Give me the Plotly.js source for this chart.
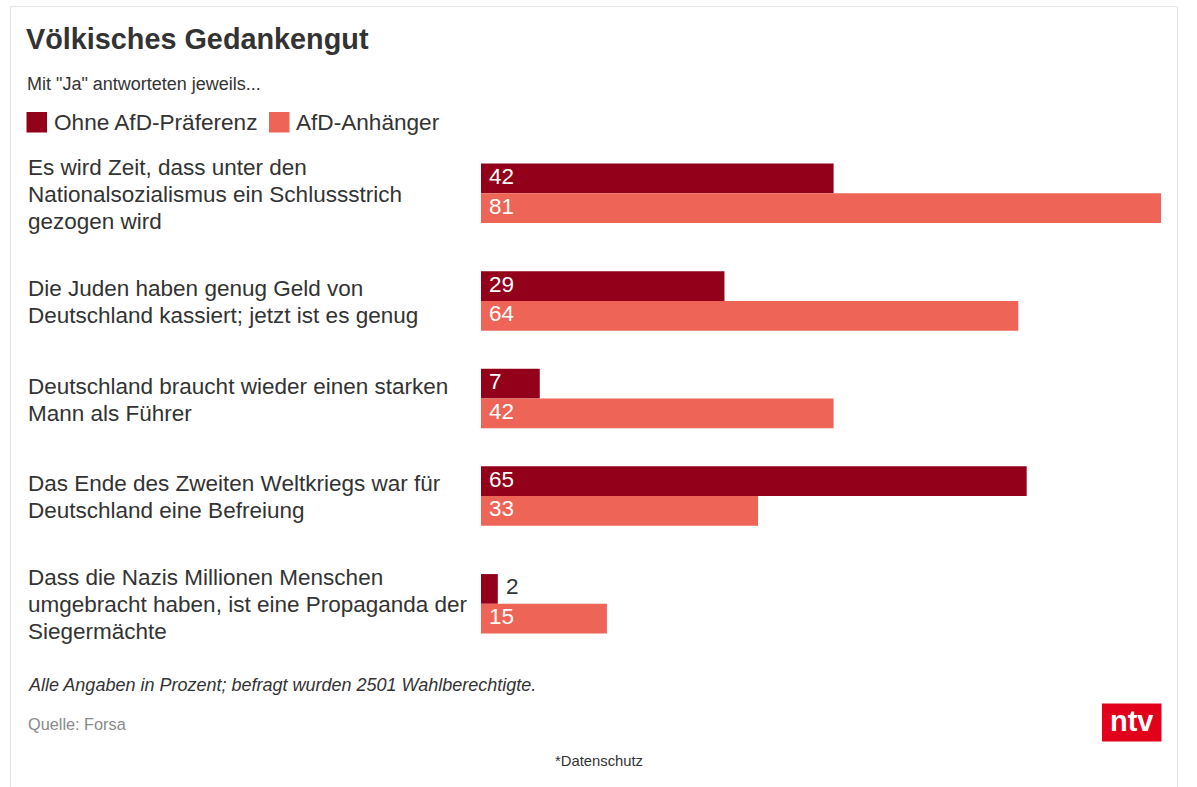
<!DOCTYPE html>
<html>
<head>
<meta charset="utf-8">
<script src="https://cdn.plot.ly/plotly-3.0.1.min.js"></script>
<style>
  html, body { margin: 0; padding: 0; background: #ffffff; }
  #chart { width: 1197px; height: 787px; }
</style>
</head>
<body>
<div id="chart"></div>
<script>
// ---------------- DATA ----------------
const titleText = "Völkisches Gedankengut";
const subtitleText = 'Mit "Ja" antworteten jeweils...';
const categories = [
  "Es wird Zeit, dass unter den<br>Nationalsozialismus ein Schlussstrich<br>gezogen wird",
  "Die Juden haben genug Geld von<br>Deutschland kassiert; jetzt ist es genug",
  "Deutschland braucht wieder einen starken<br>Mann als Führer",
  "Das Ende des Zweiten Weltkriegs war für<br>Deutschland eine Befreiung",
  "Dass die Nazis Millionen Menschen<br>umgebracht haben, ist eine Propaganda der<br>Siegermächte"
];
const seriesNames = ["Ohne AfD-Präferenz", "AfD-Anhänger"];
const ohneAfd = [42, 29, 7, 65, 2];
const afdAnhaenger = [81, 64, 42, 33, 15];
const footnoteText = "Alle Angaben in Prozent; befragt wurden 2501 Wahlberechtigte.";
const sourceText = "Quelle: Forsa";
const privacyText = "*Datenschutz";
const logoText = "ntv";

// ---------------- STYLE / GEOMETRY ----------------
const FONT = "Liberation Sans, Arial, Helvetica, sans-serif";
const TXT = "#333333";
const DARK = "#92001A";
const LIGHT = "#EE6557";
const RED = "#E2001A";
const W = 1197, H = 787;
const ML = 481, MR = 36, MT = 134, MB = 123.5;
const PW = W - ML - MR, PH = H - MT - MB;
const px2x = p => (p - ML) / PW;
const py2y = p => 1 - (p - MT) / PH;
const BAR_H = 29.75;          // bar thickness (axis units = px)
const LINE_H = 27;            // label line spacing in px

// row layout derived from how many lines each category label has
const lineCounts = categories.map(c => c.split("<br>").length);
const rowHeights = lineCounts.map(n => 55.5 + 21 * n);
const centers = [];
let acc = 0;
rowHeights.forEach(h => { centers.push(acc + h / 2); acc += h; });
const yTotal = acc;
const xMax = Math.max(...ohneAfd, ...afdAnhaenger);

// ---------------- TRACES ----------------
const traces = [
  {
    type: "bar", orientation: "h", name: seriesNames[0],
    x: ohneAfd, y: centers, offset: -BAR_H, width: BAR_H,
    marker: { color: DARK, line: { width: 0 } }, hoverinfo: "skip"
  },
  {
    type: "bar", orientation: "h", name: seriesNames[1],
    x: afdAnhaenger, y: centers, offset: 0, width: BAR_H,
    marker: { color: LIGHT, line: { width: 0 } }, hoverinfo: "skip"
  }
];

// ---------------- ANNOTATIONS ----------------
const ann = [];
function txt(text, xpx, ypx, size, opts) {
  ann.push(Object.assign({
    text: text, xref: "paper", yref: "paper",
    x: px2x(xpx), y: py2y(ypx), xanchor: "left", yanchor: "middle",
    showarrow: false, borderpad: 0, borderwidth: 0,
    font: { family: FONT, size: size, color: TXT }
  }, opts || {}));
}
txt("<b>" + titleText + "</b>", 26, 39, 28.8);
txt(subtitleText, 27, 83.5, 18);
txt(seriesNames[0], 54, 122, 22.6);
txt(seriesNames[1], 296, 122, 22.6);
txt("<i>" + footnoteText + "</i>", 28, 686, 18);
txt(sourceText, 28, 725, 16.3, { font: { family: FONT, size: 16.3, color: "#8a8a8a" } });
txt(privacyText, 598.5, 762, 14.8, { xanchor: "center" });
txt("<b>" + logoText + "</b>", 1131.5, 722, 29, { xanchor: "center", font: { family: FONT, size: 29, color: "#ffffff" } });

// category labels, one annotation per line
categories.forEach((c, i) => {
  const lines = c.split("<br>");
  const mid = (lines.length - 1) / 2;
  lines.forEach((ln, j) => {
    ann.push({
      text: ln, xref: "paper", yref: "y", x: px2x(28), y: centers[i],
      xanchor: "left", yanchor: "middle", yshift: (mid - j) * LINE_H - 1,
      showarrow: false, borderpad: 0, borderwidth: 0,
      font: { family: FONT, size: 22.5, color: TXT }
    });
  });
});

// value labels
function valueLabel(v, yc) {
  const barPx = v / xMax * PW;
  const textPx = String(v).length * 12.5 + 16;
  const inside = barPx >= textPx;
  ann.push({
    text: String(v), xref: "x", yref: "y", x: inside ? 0 : v, y: yc,
    xanchor: "left", yanchor: "middle", xshift: 8, yshift: 2,
    showarrow: false, borderpad: 0, borderwidth: 0,
    font: { family: FONT, size: 22.5, color: inside ? "#ffffff" : TXT }
  });
}
centers.forEach((c, i) => {
  valueLabel(ohneAfd[i], c - BAR_H / 2);
  valueLabel(afdAnhaenger[i], c + BAR_H / 2);
});

// ---------------- SHAPES ----------------
const shapes = [
  { type: "path", xref: "paper", yref: "paper",
    path: `M ${px2x(10.5)},${py2y(H + 5)} L ${px2x(10.5)},${py2y(6.5)} L ${px2x(1177.5)},${py2y(6.5)} L ${px2x(1177.5)},${py2y(H + 5)}`,
    line: { color: "#dfe4e8", width: 1 } },
  { type: "rect", xref: "paper", yref: "paper",
    x0: px2x(26.5), x1: px2x(47), y0: py2y(112), y1: py2y(132.5),
    fillcolor: DARK, line: { width: 0 } },
  { type: "rect", xref: "paper", yref: "paper",
    x0: px2x(269), x1: px2x(289.5), y0: py2y(112), y1: py2y(132.5),
    fillcolor: LIGHT, line: { width: 0 } },
  { type: "rect", xref: "paper", yref: "paper",
    x0: px2x(1102), x1: px2x(1161.5), y0: py2y(704), y1: py2y(742),
    fillcolor: RED, line: { width: 0 } }
];

const layout = {
  width: W, height: H,
  margin: { l: ML, r: MR, t: MT, b: MB, pad: 0 },
  paper_bgcolor: "#ffffff", plot_bgcolor: "#ffffff",
  showlegend: false, barmode: "overlay",
  xaxis: { range: [0, xMax], visible: false, fixedrange: true },
  yaxis: { range: [yTotal, 0], visible: false, fixedrange: true },
  annotations: ann, shapes: shapes,
  font: { family: FONT, color: TXT }
};

Plotly.newPlot("chart", traces, layout, { displayModeBar: false, staticPlot: true });
</script>
</body>
</html>
